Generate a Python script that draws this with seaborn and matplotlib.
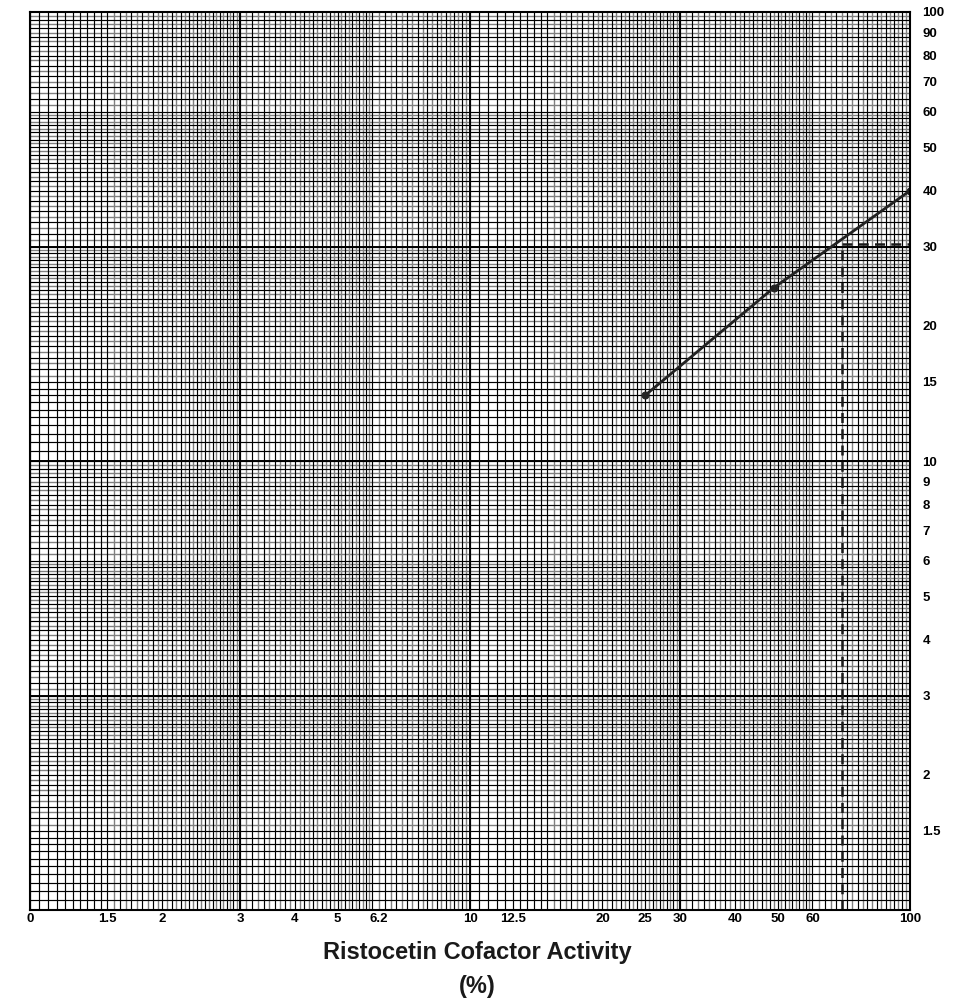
import numpy as np
import matplotlib
matplotlib.use("Agg")
import matplotlib.pyplot as plt
import seaborn as sns

# data
activity = [25, 49, 100]          # Ristocetin cofactor activity (%)
response = [14, 24.3, 40]         # value on right axis
read_x = [70, 70]
read_y = [1, 30.5]
read_hx = [70, 100]
read_hy = [30.5, 30.5]

x_ticks = [1, 1.5, 2, 3, 4, 5, 6.2, 10, 12.5, 20, 25, 30, 40, 50, 60, 100]
x_labels = ["0", "1.5", "2", "3", "4", "5", "6.2", "10", "12.5", "20", "25",
            "30", "40", "50", "60", "100"]
y_ticks = [1.5, 2, 3, 4, 5, 6, 7, 8, 9, 10, 15, 20, 30, 40, 50, 60, 70, 80, 90, 100]
y_labels = ["1.5", "2", "3", "4", "5", "6", "7", "8", "9", "10", "15", "20",
            "30", "40", "50", "60", "70", "80", "90", "100"]

sns.set_style("white")
plt.rcParams["font.family"] = ["Liberation Sans", "DejaVu Sans"]


def paper_lines():
    # graph paper rulings, black and gray, repeated for both decades
    black, gray = [], []
    for d in [1, 10]:
        for v in np.arange(1.0, 1.5, 0.05):
            black.append(v * d)
        for i, v in enumerate(np.arange(1.5, 3.0, 0.05)):
            (black if i % 2 == 0 else gray).append(v * d)
        for i, v in enumerate(np.arange(3.0, 6.0, 0.1)):
            (black if i % 2 == 0 else gray).append(v * d)
        for i, v in enumerate(np.arange(6.0, 10.0, 0.2)):
            (black if i % 2 == 0 else gray).append(v * d)
    return black, gray


fig = plt.figure(figsize=(9.61, 9.98), dpi=100)
ax = fig.add_axes([30 / 961, 88 / 998, 880 / 961, 898 / 998])
ax.set_xscale("log")
ax.set_yscale("log")
ax.set_xlim(1, 100)
ax.set_ylim(1, 100)

black, gray = paper_lines()
for v in gray:
    ax.axvline(v, color="0.5", lw=1.0, zorder=1)
    ax.axhline(v, color="0.5", lw=1.0, zorder=1)
for v in black:
    ax.axvline(v, color="black", lw=0.85, zorder=2)
    ax.axhline(v, color="black", lw=0.85, zorder=2)
for v in [3, 10, 30]:
    ax.axvline(v, color="black", lw=1.4, zorder=2)
    ax.axhline(v, color="black", lw=1.4, zorder=2)

sns.lineplot(x=activity, y=response, ax=ax, color="#222222", linewidth=2.0,
             marker="o", markersize=5, markeredgecolor="#222222",
             estimator=None, sort=False, zorder=5)
sns.lineplot(x=read_x, y=read_y, ax=ax, color="#1a1a1a", linewidth=1.8,
             linestyle=(0, (4, 2.5)), estimator=None, sort=False, zorder=4)
sns.lineplot(x=read_hx, y=read_hy, ax=ax, color="#1a1a1a", linewidth=1.8,
             linestyle=(0, (4, 2.5)), estimator=None, sort=False, zorder=4)

ax.set_xticks(x_ticks)
ax.set_xticklabels(x_labels, fontsize=9.5, fontweight="bold")
ax.set_xticks([], minor=True)
ax.yaxis.tick_right()
ax.set_yticks(y_ticks)
ax.set_yticklabels(y_labels, fontsize=9.5, fontweight="bold")
ax.set_yticks([], minor=True)
ax.tick_params(axis="x", length=0, pad=2, colors="black")
ax.tick_params(axis="y", length=0, pad=9, colors="black")
ax.set_xlabel("")
ax.set_ylabel("")
for s in ax.spines.values():
    s.set_linewidth(1.5)
    s.set_color("black")
    s.set_zorder(6)

fig.text(0.497, 1 - 952 / 998, "Ristocetin Cofactor Activity", ha="center",
         va="center", fontsize=17, fontweight="bold", color="#1a1a1a")
fig.text(0.497, 1 - 987 / 998, "(%)", ha="center", va="center",
         fontsize=17, fontweight="bold", color="#1a1a1a")

fig.savefig("out.png", dpi=100)
